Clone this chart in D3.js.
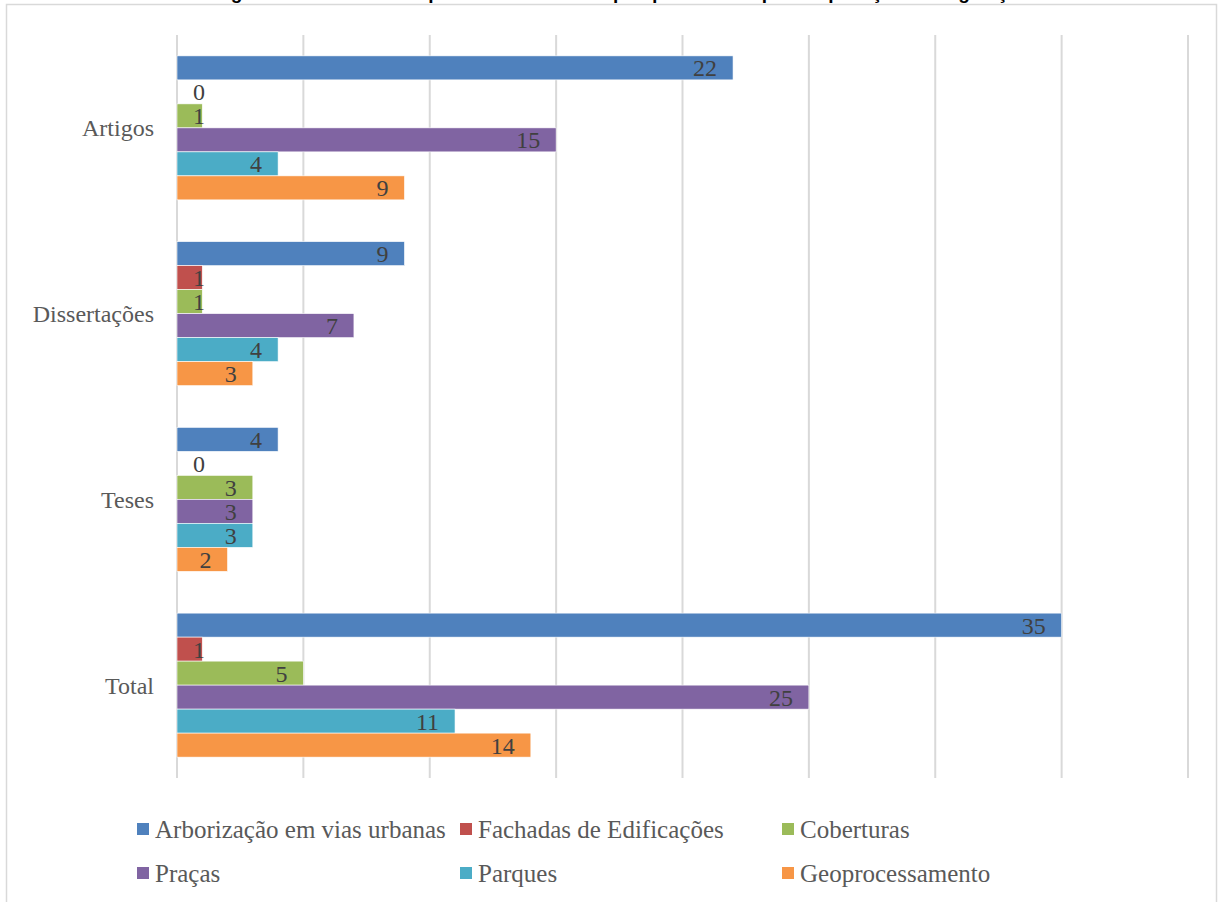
<!DOCTYPE html>
<html>
<head>
<meta charset="utf-8">
<script src="https://cdn.jsdelivr.net/npm/d3@7"></script>
<style>
  body { margin: 0; background: #fff; }
  svg { display: block; }
</style>
</head>
<body>
<div id="chart"></div>
<script>
const width = 1218,
  height = 902,
  margin = { top: 35, bottom: 124, left: 177, right: 30 }

// categories top to bottom, series in draw order
const categories = ["Artigos", "Dissertações", "Teses", "Total"]
const series = ["Arborização em vias urbanas", "Fachadas de Edificações", "Coberturas", "Praças", "Parques", "Geoprocessamento"]
const colors = ["#4F81BD", "#C0504D", "#9BBB59", "#8064A2", "#4BACC6", "#F79646"]

const arborizacao = [22, 9, 4, 35]
const fachadas = [0, 1, 0, 1]
const coberturas = [1, 1, 3, 5]
const pracas = [15, 7, 3, 25]
const parques = [4, 4, 3, 11]
const geoprocessamento = [9, 3, 2, 14]
const seriesValues = [arborizacao, fachadas, coberturas, pracas, parques, geoprocessamento]

const xTicks = [0, 5, 10, 15, 20, 25, 30, 35, 40]

const svg = d3.select("#chart")
  .append("svg")
  .attr("width", width)
  .attr("height", height)

// outer frame of the chart area
svg.append("rect")
  .attr("x", 6.5)
  .attr("y", 4.5)
  .attr("width", 1210)
  .attr("height", 920)
  .attr("fill", "none")
  .attr("stroke", "#d9d9d9")
  .attr("stroke-width", 1.5)

// title cut off by the page top, only descenders show
svg.append("text")
  .attr("x", 622)
  .attr("y", -1)
  .attr("text-anchor", "middle")
  .style("font-family", "Liberation Sans, Arial, sans-serif")
  .style("font-weight", "bold")
  .style("font-size", "19px")
  .style("fill", "#000")
  .text("Figura 1 - Síntese dos tipos de documentos pesquisados e tipo de aplicação da vegetação")

const x = d3.scaleLinear()
  .domain([0, 40])
  .range([margin.left, width - margin.right])

const y0 = d3.scaleBand()
  .domain(categories)
  .range([margin.top, height - margin.bottom])
  .padding(0)

const y1 = d3.scaleBand()
  .domain(series)
  .range([0, y0.bandwidth()])
  .paddingInner(0)
  .paddingOuter(0.87)

// vertical gridlines
svg.append("g")
  .selectAll("line")
  .data(xTicks)
  .join("line")
  .attr("x1", d => x(d))
  .attr("x2", d => x(d))
  .attr("y1", margin.top)
  .attr("y2", height - margin.bottom)
  .attr("stroke", "#d9d9d9")
  .attr("stroke-width", 2)

// category labels
svg.append("g")
  .selectAll("text")
  .data(categories)
  .join("text")
  .attr("x", margin.left - 23)
  .attr("y", d => y0(d) + y0.bandwidth() / 2)
  .attr("dy", "0.35em")
  .attr("text-anchor", "end")
  .style("font-family", "Liberation Serif, serif")
  .style("font-size", "24px")
  .style("fill", "#595959")
  .text(d => d)

const barData = []
categories.forEach((c, ci) => {
  series.forEach((s, si) => {
    barData.push({ cat: c, series: s, color: colors[si], value: seriesValues[si][ci] })
  })
})

const groups = svg.append("g")

groups.selectAll("rect")
  .data(barData.filter(d => d.value > 0))
  .join("rect")
  .attr("x", x(0))
  .attr("y", d => y0(d.cat) + y1(d.series))
  .attr("width", d => x(d.value) - x(0))
  .attr("height", y1.bandwidth())
  .attr("fill", d => d.color)
  .attr("stroke", "#fff")
  .attr("stroke-width", 0.6)

// data labels: inside end, pushed right of the axis when the bar is short
const labels = groups.selectAll("text.value")
  .data(barData)
  .join("text")
  .attr("class", "value")
  .attr("y", d => y0(d.cat) + y1(d.series) + y1.bandwidth() / 2)
  .attr("dy", "0.35em")
  .style("font-family", "Liberation Serif, serif")
  .style("font-size", "24px")
  .style("fill", "#404040")
  .text(d => d.value)

labels.each(function (d) {
  const w = this.getComputedTextLength()
  const end = x(d.value) - 16
  const minStart = x(0) + 16
  if (end - w < minStart) {
    d3.select(this).attr("x", minStart).attr("text-anchor", "start")
  } else {
    d3.select(this).attr("x", end).attr("text-anchor", "end")
  }
})

// legend, 3 columns x 2 rows
const legendCols = [137, 460, 782]
const legendRows = [829, 873]

const legend = svg.append("g")
  .selectAll("g")
  .data(series)
  .join("g")
  .attr("transform", (d, i) => `translate(${legendCols[i % 3]},${legendRows[Math.floor(i / 3)]})`)

legend.append("rect")
  .attr("x", 0)
  .attr("y", -6)
  .attr("width", 12)
  .attr("height", 12)
  .attr("fill", (d, i) => colors[i])

legend.append("text")
  .attr("x", 18)
  .attr("y", 0)
  .attr("dy", "0.35em")
  .style("font-family", "Liberation Serif, serif")
  .style("font-size", "25px")
  .style("fill", "#595959")
  .text(d => d)
</script>
</body>
</html>
